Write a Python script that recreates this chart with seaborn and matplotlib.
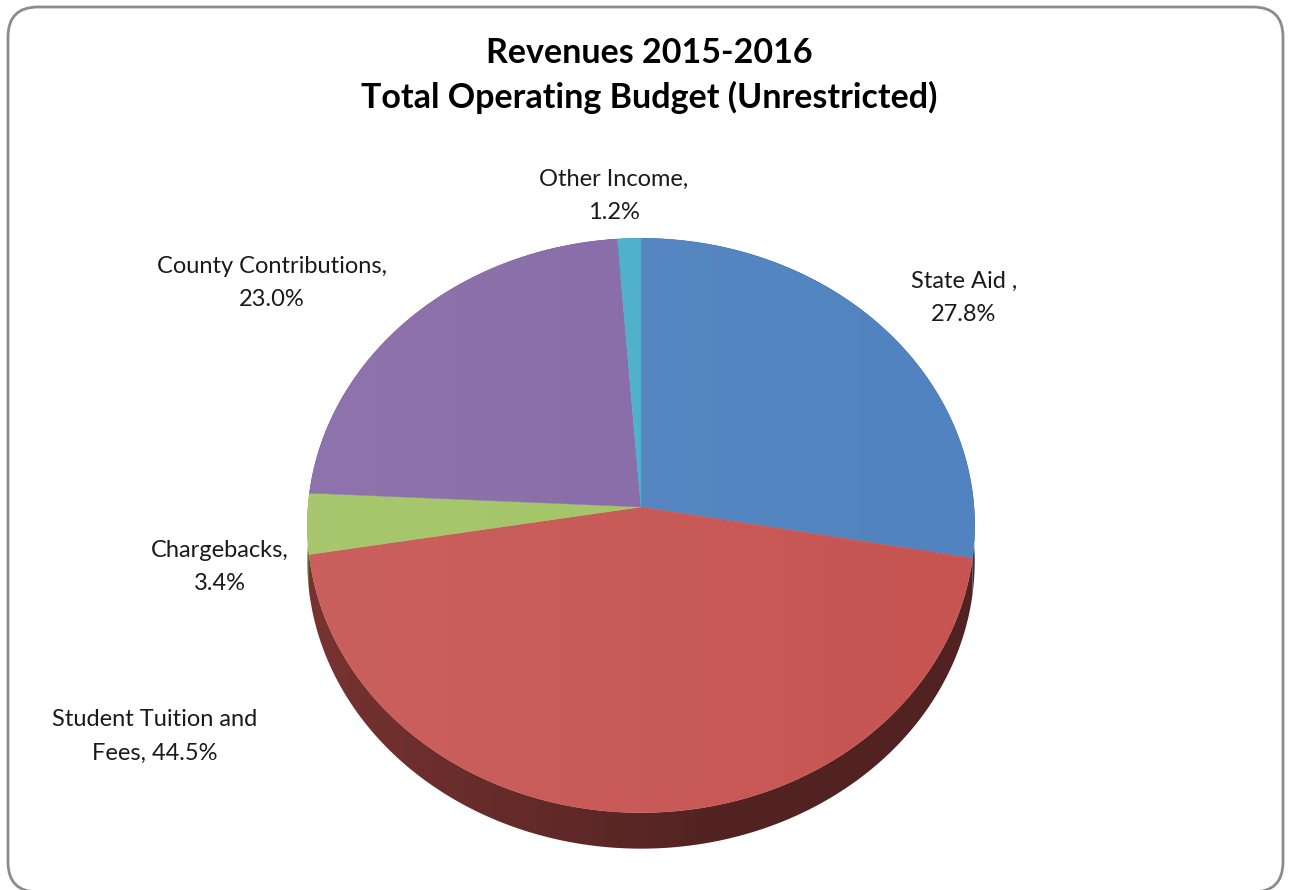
import numpy as np
import matplotlib
matplotlib.use("Agg")
import matplotlib.pyplot as plt
import seaborn as sns
from matplotlib.patches import Polygon, FancyBboxPatch

# ---- data -------------------------------------------------------------
categories = ["State Aid ", "Student Tuition and\nFees", "Chargebacks",
              "County Contributions", "Other Income"]
shares = [27.8, 44.5, 3.4, 23.0, 1.2]
slice_colors = ["#5083BF", "#C65552", "#A1C363", "#8669A6", "#4BAFC9"]

# ---- style ------------------------------------------------------------
sns.set_theme(style="white")
plt.rcParams["font.family"] = ["Lato", "DejaVu Sans"]
palette = sns.color_palette(slice_colors)

W, H = 1292, 890
fig = plt.figure(figsize=(W / 100, H / 100), dpi=100)
ax = fig.add_axes([0, 0, 1, 1])
ax.set_xlim(0, W)
ax.set_ylim(H, 0)
ax.axis("off")

# chart frame
frame = FancyBboxPatch((8, 7), W - 17, H - 5,
                       boxstyle="round,pad=0,rounding_size=30",
                       facecolor="white", edgecolor="#8C8C8C", lw=2, zorder=0)
ax.add_patch(frame)

# ---- tilted pie geometry (perspective view of a disc) -----------------
CX, CY = 641, 507      # pie centre on screen
RX, RY = 333, 286      # disc radii
K = 0.0643             # perspective strength
DEPTH = 36             # thickness of the disc edge


def project(theta_deg, r=1.0):
    t = np.radians(theta_deg)
    u = r * np.cos(t)
    v = -r * np.sin(t)
    s = 1.0 / (1.0 - K * v)
    return CX + RX * u * s, CY + RY * v * s


total = float(np.sum(shares))
bounds = 90 - 360 * np.concatenate([[0], np.cumsum(shares)]) / total

# side walls (drawn first, the top faces cover the hidden parts)
xs_grid = np.linspace(0, W, W)
for i, col in enumerate(palette):
    a, b = bounds[i], bounds[i + 1]
    th = np.linspace(a, b, 200)
    x, y = project(th)
    pts = np.column_stack([np.r_[x, x[::-1]], np.r_[y, (y + DEPTH)[::-1]]])
    poly = Polygon(pts, closed=True, facecolor="none", edgecolor="none")
    ax.add_patch(poly)
    shade = np.interp(xs_grid, [CX - RX, CX + 0.25 * RX], [0.60, 0.41])
    img = np.clip(np.array(col)[None, None, :] * shade[None, :, None], 0, 1)
    im = ax.imshow(img, extent=(0, W, H, 0), aspect="auto",
                   interpolation="bilinear", zorder=1)
    im.set_clip_path(poly)

# top faces
ellipse_pts = []
for i, col in enumerate(palette):
    a, b = bounds[i], bounds[i + 1]
    th = np.linspace(a, b, 300)
    x, y = project(th)
    pts = np.vstack([[CX, CY], np.column_stack([x, y])])
    ax.add_patch(Polygon(pts, closed=True, facecolor=col, edgecolor=col,
                         lw=0.3, zorder=2))
    ellipse_pts.append(np.column_stack([x, y]))

# soft lighting across the top face
top_outline = Polygon(np.vstack(ellipse_pts), closed=True,
                      facecolor="none", edgecolor="none")
ax.add_patch(top_outline)
light = np.zeros((1, W, 4))
light[..., :3] = 1.0
light[0, :, 3] = np.interp(xs_grid, [CX - RX, CX + RX], [0.07, 0.0])
lim = ax.imshow(light, extent=(0, W, H, 0), aspect="auto",
                interpolation="bilinear", zorder=3)
lim.set_clip_path(top_outline)

# ---- labels -----------------------------------------------------------
label_pos = [(964, 298), (155, 736), (220, 567), (272, 283), (614, 196)]
for name, val, (lx, ly) in zip(categories, shares, label_pos):
    sep = " " if "\n" in name else "\n"
    ax.text(lx, ly, f"{name},{sep}{val:.1f}%", ha="center", va="center",
            fontsize=17, color="#1A1A1A", linespacing=1.75, zorder=5)

ax.text(649, 53, "Revenues 2015-2016", ha="center", va="center",
        fontsize=24.5, fontweight="bold", color="black", zorder=5)
ax.text(649, 97, "Total Operating Budget (Unrestricted)", ha="center",
        va="center", fontsize=24.5, fontweight="bold", color="black", zorder=5)

fig.savefig("out.png", dpi=100)
